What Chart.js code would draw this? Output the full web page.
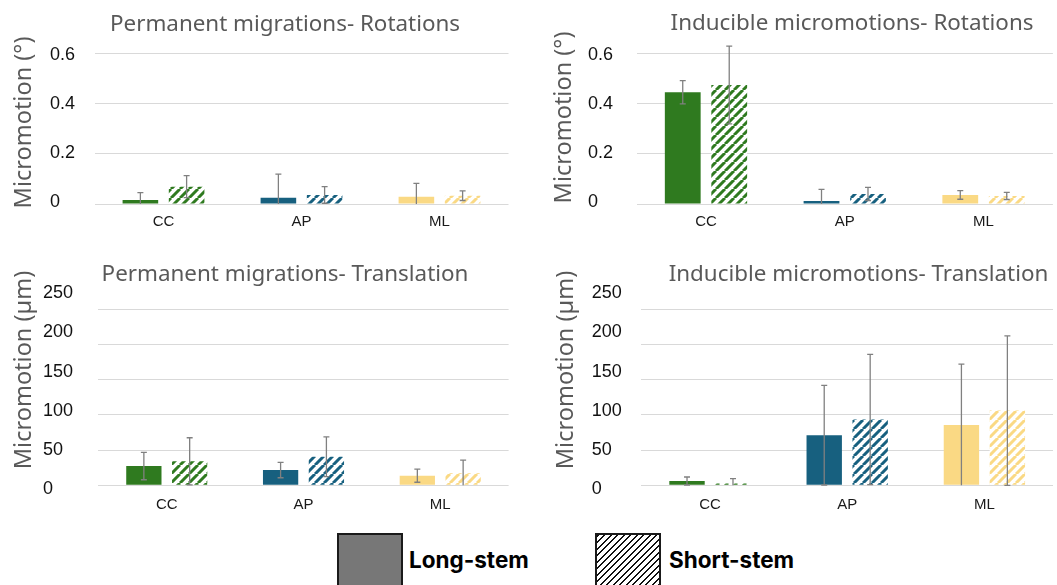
<!DOCTYPE html>
<html lang="en">
<head>
<meta charset="UTF-8">
<title>Micromotion</title>
<script src="https://cdn.jsdelivr.net/npm/chart.js"></script>
<style>
  body { margin: 0; background: #fff; }
  #fig { position: relative; width: 1057px; height: 585px; overflow: hidden; background: #fff; }
  #fig canvas { position: absolute; }
  .key { position: absolute; top: 533px; width: 62px; height: 64px; border: 2px solid #1a1a1a; }
  .solid { background: #777; }
  .hatch { background: repeating-linear-gradient(135deg, #111 0 1.6px, #fff 1.6px 4.6px); }
  .lab { position: absolute; top: 546px; line-height: 26px; font: 700 22.5px Inter, sans-serif; color: #000; }
</style>
</head>
<body>
<div id="fig">
  <canvas id="c1" width="570" height="240" style="left:0;top:0"></canvas>
  <canvas id="c2" width="614" height="240" style="left:545px;top:0"></canvas>
  <canvas id="c3" width="570" height="290" style="left:0;top:240px"></canvas>
  <canvas id="c4" width="621" height="290" style="left:548px;top:240px"></canvas>

  <div class="key solid" style="left:337px"></div>
  <div class="lab" style="left:409px">Long-stem</div>
  <div class="key hatch" style="left:595px"></div>
  <div class="lab" style="left:669px">Short-stem</div>
</div>

<script>
const categories = ['CC', 'AP', 'ML'];
const rotationTicks = [0, 0.2, 0.4, 0.6];
const translationTicks = [0, 50, 100, 150, 200, 250];

// permanent migrations - rotations (deg)
const permRotLong = [0.016, 0.025, 0.029];
const permRotLongErr = [0.029, 0.094, 0.053];
const permRotShort = [0.069, 0.036, 0.033];
const permRotShortErr = [0.044, 0.033, 0.019];

// inducible micromotions - rotations (deg)
const indRotLong = [0.445, 0.012, 0.036];
const indRotLongErr = [0.046, 0.046, 0.017];
const indRotShort = [0.474, 0.040, 0.032];
const indRotShortErr = [0.155, 0.026, 0.014];

// permanent migrations - translation (um)
const permTrLong = [27.4, 21.7, 13.7];
const permTrLongErr = [19.5, 11, 9.4];
const permTrShort = [34, 40.6, 17];
const permTrShortErr = [33.5, 28.3, 18.8];

// inducible micromotions - translation (um)
const indTrLong = [6.1, 71.2, 85.8];
const indTrLongErr = [5.7, 70.8, 86.3];
const indTrShort = [2.4, 93.4, 106.1];
const indTrShortErr = [7, 92.4, 106.1];

const colors = ['#2f7a1f', '#17607f', '#fad984'];

function hatch(color) {
  const c = document.createElement('canvas');
  c.width = c.height = 9;
  const g = c.getContext('2d');
  g.fillStyle = '#fff';
  g.fillRect(0, 0, 9, 9);
  g.strokeStyle = color;
  g.lineWidth = 3;
  g.beginPath();
  for (const o of [-9, 0, 9]) { g.moveTo(o, 9); g.lineTo(o + 9, 0); }
  g.stroke();
  return g.createPattern(c, 'repeat');
}
const hatches = colors.map(hatch);

// draws the +/- error bars using the y scale
const errorBars = {
  id: 'errorBars',
  afterDatasetsDraw(chart, args, opts) {
    const { ctx, chartArea } = chart;
    const y = chart.scales.y;
    ctx.save();
    ctx.beginPath();
    ctx.rect(chartArea.left, chartArea.top, chartArea.width, chartArea.height);
    ctx.clip();
    ctx.strokeStyle = '#808080';
    ctx.lineWidth = 1.3;
    chart.data.datasets.forEach((ds, i) => {
      const meta = chart.getDatasetMeta(i);
      meta.data.forEach((bar, j) => {
        const v = ds.data[j], e = opts.errors[i][j];
        const lo = Math.max(0, v - e);
        const yt = y.getPixelForValue(v + e);
        const yb = y.getPixelForValue(lo);
        ctx.beginPath();
        ctx.moveTo(bar.x, yb); ctx.lineTo(bar.x, yt);
        ctx.moveTo(bar.x - 3, yt); ctx.lineTo(bar.x + 3, yt);
        if (v - e >= 0) { ctx.moveTo(bar.x - 3, yb); ctx.lineTo(bar.x + 3, yb); }
        ctx.stroke();
      });
    });
    ctx.restore();
  }
};

function setTicks(list) {
  return s => { s.ticks = list.map(v => ({ value: v })); };
}

function makePanel(id, p) {
  return new Chart(document.getElementById(id), {
    type: 'bar',
    data: {
      labels: categories,
      datasets: [
        { label: 'Long-stem', data: p.long, backgroundColor: colors, borderWidth: 0,
          categoryPercentage: 0.67, barPercentage: 0.77 },
        { label: 'Short-stem', data: p.short, backgroundColor: hatches, borderWidth: 0,
          categoryPercentage: 0.67, barPercentage: 0.77 }
      ]
    },
    options: {
      responsive: false,
      animation: false,
      devicePixelRatio: 1,
      layout: { padding: { left: 0, right: 0, top: 0, bottom: p.padBottom } },
      plugins: {
        legend: { display: false },
        tooltip: { enabled: false },
        title: {
          display: true, text: p.title, color: '#595959',
          font: { family: "'Noto Sans', sans-serif", size: 22.4, weight: 'normal' },
          padding: { top: p.titleTop, bottom: p.titleBottom }
        },
        errorBars: { errors: [p.longErr, p.shortErr] }
      },
      scales: {
        x: {
          grid: { display: false, drawTicks: false },
          border: { display: false },
          ticks: { color: '#1a1a1a', font: { family: "'Liberation Sans', Arial, sans-serif", size: 15 }, padding: p.xPad },
          afterFit: s => { s.height = 30; }
        },
        y: {
          type: 'linear', position: 'left', weight: 2,
          min: p.yMin, max: p.yMax,
          grid: { color: '#d9d9d9', drawTicks: false },
          border: { display: false },
          ticks: { display: false },
          title: {
            display: true, text: p.yTitle, color: '#595959',
            font: { family: "'Noto Sans', sans-serif", size: 23.5 },
            padding: { top: p.yTitlePad, bottom: 0 }
          },
          afterBuildTicks: setTicks(p.ticks),
          afterFit: s => { s.width = p.yWidth; s.paddingTop = 0; s.paddingBottom = 0; }
        },
        yl: {
          type: 'linear', position: 'left', weight: 1,
          min: p.lMin, max: p.lMax,
          grid: { display: false, drawTicks: false },
          border: { display: false },
          ticks: { crossAlign: 'far', color: '#111', font: { family: "'Liberation Sans', Arial, sans-serif", size: 18 },
                   callback: v => String(v) },
          afterBuildTicks: setTicks(p.ticks),
          afterFit: s => { s.width = p.lWidth; s.paddingTop = 0; s.paddingBottom = 0; }
        },
        yr: {
          type: 'linear', position: 'right',
          grid: { display: false, drawTicks: false },
          border: { display: false },
          ticks: { display: false },
          afterFit: s => { s.width = p.rWidth; s.paddingTop = 0; s.paddingBottom = 0; }
        }
      }
    },
    plugins: [errorBars]
  });
}

makePanel('c1', {
  title: 'Permanent migrations- Rotations', yTitle: 'Micromotion (°)', ticks: rotationTicks,
  long: permRotLong, longErr: permRotLongErr, short: permRotShort, shortErr: permRotShortErr,
  titleTop: 11.6, titleBottom: 2.5, padBottom: 6, xPad: 9,
  yMin: 0, yMax: 0.649, lMin: -0.0094, lMax: 0.657,
  yWidth: 50, yTitlePad: 9.9, lWidth: 44.5, rWidth: 61.5
});

makePanel('c2', {
  title: 'Inducible micromotions- Rotations', yTitle: 'Micromotion (°)', ticks: rotationTicks,
  long: indRotLong, longErr: indRotLongErr, short: indRotShort, shortErr: indRotShortErr,
  titleTop: 10.1, titleBottom: -6.0, padBottom: 6, xPad: 8.7,
  yMin: 0, yMax: 0.689, lMin: -0.0094, lMax: 0.698,
  yWidth: 43, yTitlePad: 5.4, lWidth: 48.6, rWidth: 106.1
});

makePanel('c3', {
  title: 'Permanent migrations- Translation', yTitle: 'Micromotion (µm)', ticks: translationTicks,
  long: permTrLong, longErr: permTrLongErr, short: permTrShort, shortErr: permTrShortErr,
  titleTop: 21.6, titleBottom: -37.8, padBottom: 10.7, xPad: 6.7,
  yMin: -5.68, yMax: 333.2, lMin: 0, lMax: 304.3,
  yWidth: 43, yTitlePad: 10.4, lWidth: 55.4, rWidth: 61.4
});

makePanel('c4', {
  title: 'Inducible micromotions- Translation', yTitle: 'Micromotion (µm)', ticks: translationTicks,
  long: indTrLong, longErr: indTrLongErr, short: indTrShort, shortErr: indTrShortErr,
  titleTop: 21.6, titleBottom: -37.8, padBottom: 10.7, xPad: 6.7,
  yMin: -5.68, yMax: 333.2, lMin: 0, lMax: 304.3,
  yWidth: 43.7, yTitlePad: 3.9, lWidth: 49.7, rWidth: 116
});
</script>
</body>
</html>
